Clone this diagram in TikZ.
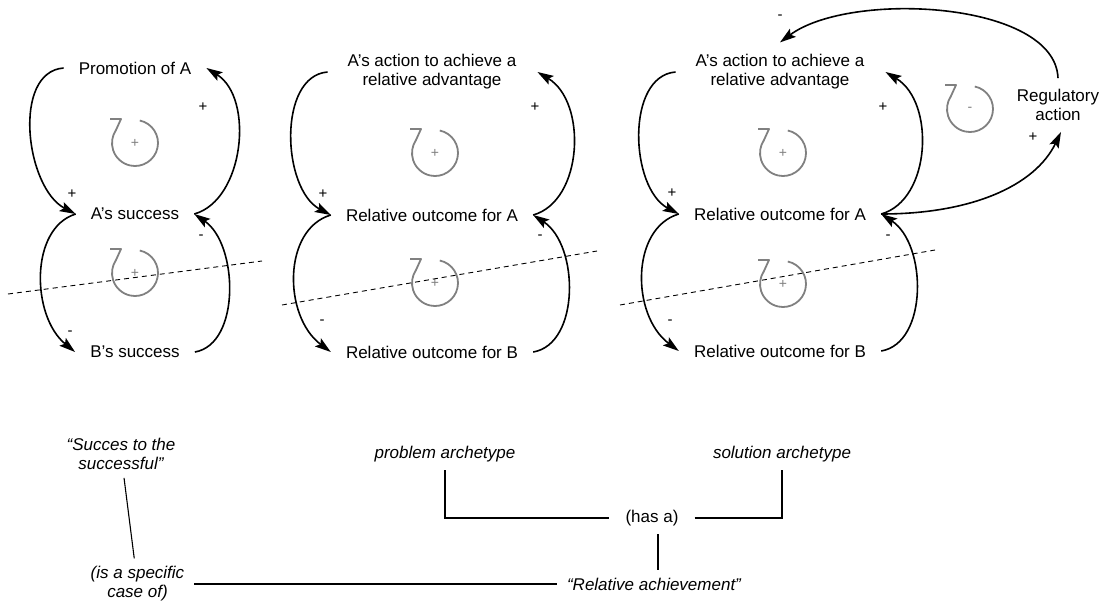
\documentclass[tikz,border=0pt]{standalone}
\usepackage{fontspec}
\setmainfont{Liberation Sans}
\usetikzlibrary{arrows.meta}
\tikzset{
  lbl/.style={font=\fontsize{17}{19}\selectfont, align=center, inner xsep=15pt, inner ysep=2pt},
  sgn/.style={font=\fontsize{15}{15}\selectfont, inner sep=0pt},
  link/.style={line width=1.6pt, -{Stealth[length=16pt,width=10pt,inset=3pt]}},
  cutline/.style={line width=0.9pt, dash pattern=on 5pt off 4pt},
  loopc/.style={draw=gray, line width=1.8pt, line join=round},
  looplbl/.style={text=gray, font=\fontsize{14}{14}\selectfont, inner sep=0pt},
  note/.style={font=\itshape\fontsize{17}{19}\selectfont, align=center, inner xsep=10pt, inner ysep=8pt},
  plainnote/.style={font=\fontsize{17}{19}\selectfont, align=center, inner xsep=16pt, inner ysep=8pt},
  relline/.style={line width=1.1pt},
  pics/loopsym/.style={code={
    \draw[loopc,x=1pt,y=1pt] (78:23) arc[start angle=78,end angle=-214,radius=23] -- (-14,24) -- (-25,24);
    \node[looplbl] (-s) at (0,0) {#1};
  }}
}
\begin{document}
\begin{tikzpicture}[x=1pt,y=-1pt]
\useasboundingbox (0,0) rectangle (1103,603);

% ---------- cluster 1 ----------
\node[lbl] (P1) at (135,68) {Promotion of A};
\node[lbl] (A1) at (135,214) {A’s success};
\node[lbl] (B1) at (135,352) {B’s success};
\draw[link] (P1.west) .. controls +(-52,4) and +(-50,-26) .. (A1.west);
\draw[link] (A1.east) .. controls +(50,-14) and +(48,30) .. (P1.east);
\draw[link] (A1.west) .. controls +(-46,14) and +(-44,-36) .. (B1.west);
\draw[link] (B1.east) .. controls +(46,-8) and +(44,30) .. (A1.east);
\node[sgn] (s1a) at (203,107) {+};
\node[sgn] (s1b) at (72,194) {+};
\node[sgn] (s1c) at (201,237) {-};
\node[sgn] (s1d) at (70,333) {-};
\pic (L1u) at (135,143) {loopsym=+};
\pic (L1d) at (135,273) {loopsym=+};
\draw[cutline] (8,294) -- (262,261);

% ---------- cluster 2 ----------
\node[lbl] (P2) at (432,72) {A’s action to achieve a\\relative advantage};
\node[lbl] (A2) at (432,215) {Relative outcome for A};
\node[lbl] (B2) at (432,352) {Relative outcome for B};
\draw[link] ([xshift=-5pt]P2.west) .. controls +(-50,4) and +(-49,-26) .. (A2.west);
\draw[link] (A2.east) .. controls +(50,-14) and +(50,30) .. ([xshift=6pt]P2.east);
\draw[link] (A2.west) .. controls +(-48,14) and +(-48,-36) .. (B2.west);
\draw[link] (B2.east) .. controls +(47,-8) and +(46,30) .. (A2.east);
\node[sgn] (s2a) at (535,107) {+};
\node[sgn] (s2b) at (323,194) {+};
\node[sgn] (s2c) at (540,237) {-};
\node[sgn] (s2d) at (322,322) {-};
\pic (L2u) at (435,153) {loopsym=+};
\pic (L2d) at (435,283) {loopsym=+};
\draw[cutline] (282,305) -- (597,251);

% ---------- cluster 3 ----------
\node[lbl] (P3) at (780,72) {A’s action to achieve a\\relative advantage};
\node[lbl] (A3) at (780,214) {Relative outcome for A};
\node[lbl] (B3) at (780,351) {Relative outcome for B};
\node[lbl, inner ysep=11pt] (R) at (1058,105) {Regulatory\\action};
\draw[link] ([xshift=-5pt]P3.west) .. controls +(-50,4) and +(-49,-26) .. (A3.west);
\draw[link] (A3.east) .. controls +(50,-14) and +(50,30) .. ([xshift=6pt]P3.east);
\draw[link] (A3.west) .. controls +(-48,14) and +(-48,-36) .. (B3.west);
\draw[link] (B3.east) .. controls +(47,-8) and +(46,30) .. (A3.east);
\draw[link] (A3.east) .. controls +(90,0) and +(-26,54) .. ([xshift=3pt]R.south);
\draw[link] (R.north) .. controls +(-3,-77) and +(70,-52) .. ([yshift=10pt]P3.north);
\node[sgn] (s3a) at (883,107) {+};
\node[sgn] (s3b) at (672,193) {+};
\node[sgn] (s3c) at (888,237) {-};
\node[sgn] (s3d) at (670,322) {-};
\node[sgn] (s3e) at (1033,137) {+};
\node[sgn] (s3f) at (780,17) {-};
\pic (L3u) at (783,153) {loopsym=+};
\pic (L3d) at (783,284) {loopsym=+};
\pic (L3r) at (970,109) {loopsym=-};
\draw[cutline] (620,305) -- (935,250);

% ---------- bottom ----------
\node[note] (succ) at (121,454) {“Succes to the\\successful”};
\node[note] (isa) at (137.5,584) {(is a specific\\case of)};
\node[note] (relach) at (654,584) {“Relative achievement”};
\node[note] (prob) at (445,454) {problem archetype};
\node[note] (sol) at (782,454) {solution archetype};
\node[plainnote] (hasa) at (652,518) {(has a)};
\draw[relline] (succ) -- (isa);
\draw[relline] (prob.south) |- (hasa.west);
\draw[relline] (hasa.east) -| (sol.south);
\draw[relline] ([xshift=6pt]hasa.south) -- ([xshift=6pt]hasa.south |- relach.north);
\draw[relline] (isa.east |- relach.west) -- (relach.west);
\end{tikzpicture}
\end{document}
